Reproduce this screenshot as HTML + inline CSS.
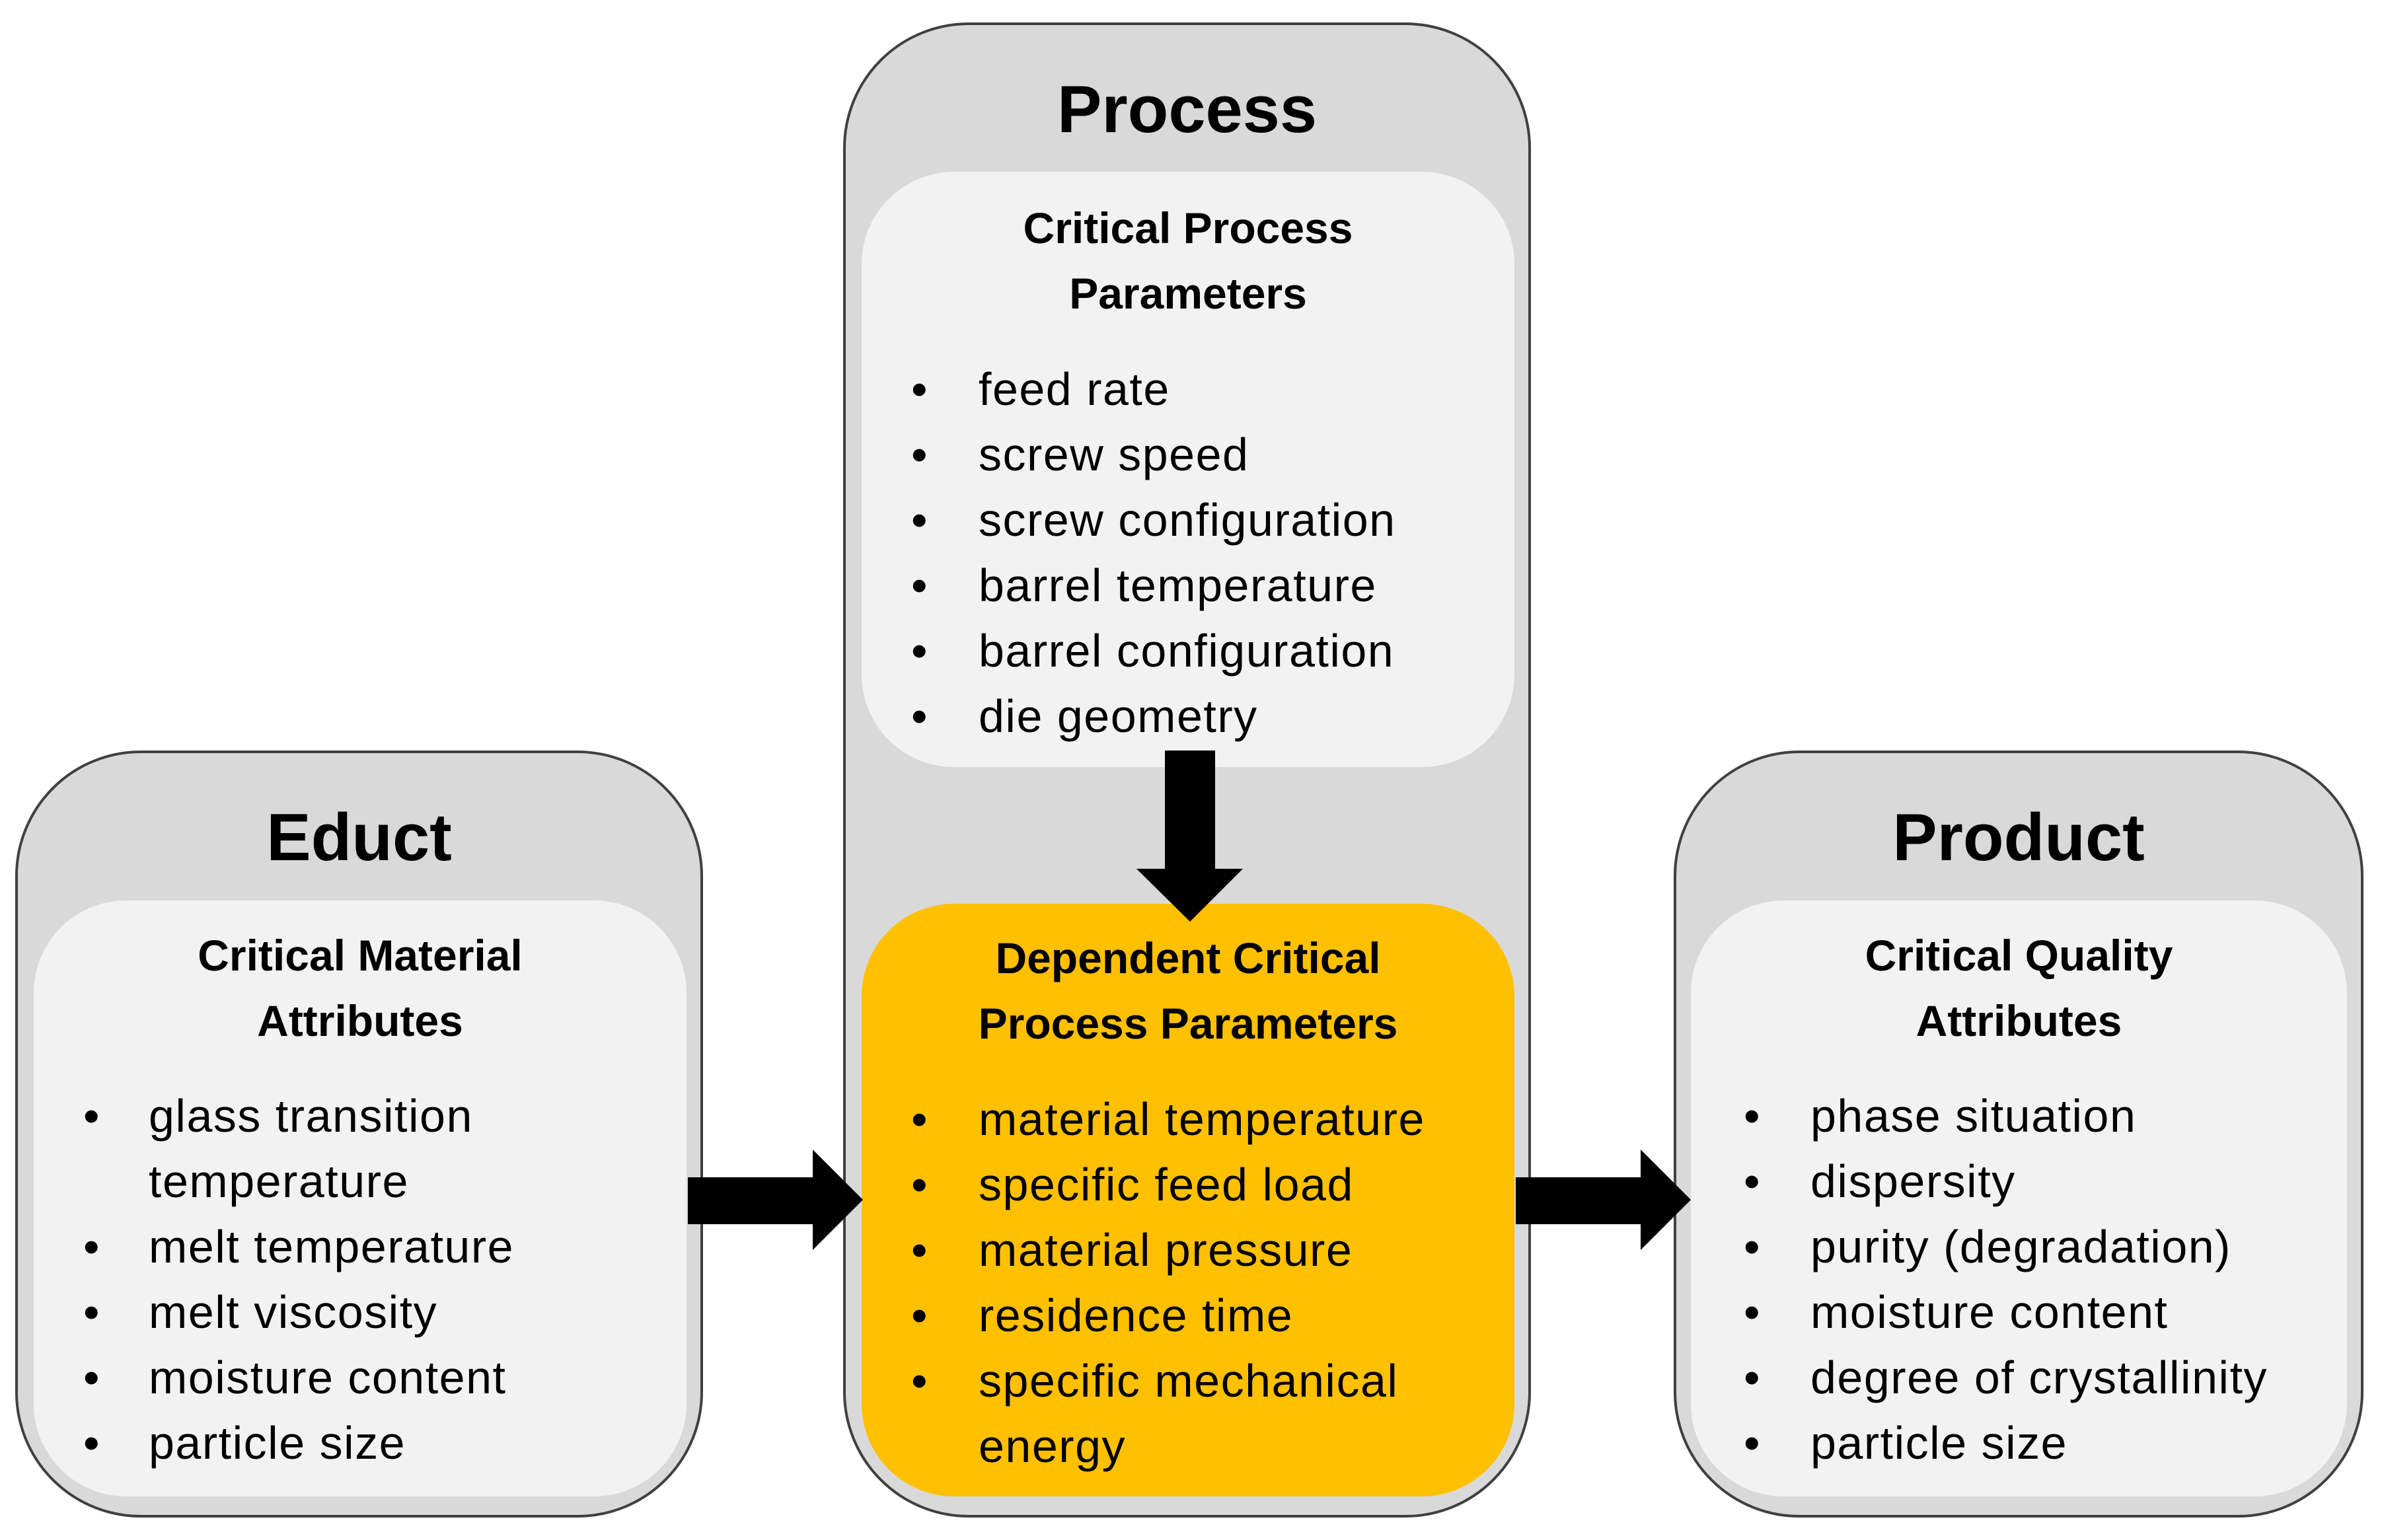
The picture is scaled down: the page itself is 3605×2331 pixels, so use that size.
<!DOCTYPE html>
<html><head><meta charset="utf-8"><style>
body{margin:0;width:3605px;height:2331px;background:#fff;position:relative;overflow:hidden;font-family:"Liberation Sans",sans-serif;color:#000}
.o{position:absolute;background:#d9d9d9;border:4px solid #404040;border-radius:190px;box-sizing:border-box}
.i{position:absolute;background:#f2f2f2;border-radius:140px;box-sizing:border-box}
.t{position:absolute;font-weight:bold;font-size:101px;text-align:center;line-height:1}
.h{position:absolute;font-weight:bold;font-size:66px;text-align:center;line-height:99px}
.l{position:absolute;font-size:70px;letter-spacing:1.5px;line-height:99px;margin:0;padding:0;list-style:none}
.l div{position:relative;padding-left:var(--p);white-space:nowrap}
.l div.b::before{content:"•";position:absolute;left:0}
.y{background:#ffc000}
</style></head><body>
<div class="o" style="left:23px;top:1136px;width:1041px;height:1161px"></div>
<div class="i" style="left:51px;top:1363px;width:988px;height:902px"></div>
<div class="o" style="left:1276px;top:34px;width:1041px;height:2263px"></div>
<div class="i" style="left:1304px;top:260px;width:988px;height:901px"></div>
<div class="i y" style="left:1304px;top:1368px;width:988px;height:897px"></div>
<div class="o" style="left:2533px;top:1136px;width:1044px;height:1161px"></div>
<div class="i" style="left:2559px;top:1363px;width:993px;height:902px"></div>

<div class="t" style="left:23px;width:1041px;top:1218px">Educt</div>
<div class="t" style="left:1276px;width:1041px;top:116px">Process</div>
<div class="t" style="left:2533px;width:1044px;top:1218px">Product</div>

<div class="h" style="left:51px;width:988px;top:1397px">Critical Material<br>Attributes</div>
<div class="h" style="left:1304px;width:988px;top:296px">Critical Process<br>Parameters</div>
<div class="h" style="left:1304px;width:988px;top:1401px">Dependent Critical<br>Process Parameters</div>
<div class="h" style="left:2559px;width:993px;top:1397px">Critical Quality<br>Attributes</div>

<div class="l" style="left:126px;top:1640px;--p:99px">
<div class="b">glass transition</div><div>temperature</div><div class="b">melt temperature</div><div class="b">melt viscosity</div><div class="b">moisture content</div><div class="b">particle size</div></div>
<div class="l" style="left:1379px;top:540px;--p:102px">
<div class="b">feed rate</div><div class="b">screw speed</div><div class="b">screw configuration</div><div class="b">barrel temperature</div><div class="b">barrel configuration</div><div class="b">die geometry</div></div>
<div class="l" style="left:1379px;top:1645px;--p:102px">
<div class="b">material temperature</div><div class="b">specific feed load</div><div class="b">material pressure</div><div class="b">residence time</div><div class="b">specific mechanical</div><div>energy</div></div>
<div class="l" style="left:2639px;top:1640px;--p:101px">
<div class="b">phase situation</div><div class="b">dispersity</div><div class="b">purity (degradation)</div><div class="b">moisture content</div><div class="b">degree of crystallinity</div><div class="b">particle size</div></div>

<svg style="position:absolute;left:0;top:0" width="3605" height="2331">
<polygon points="1763,1136 1839,1136 1839,1315 1881,1315 1801,1395 1720,1315 1763,1315" fill="#000"/>
<polygon points="1041,1782 1230,1782 1230,1740 1306,1816 1230,1892 1230,1853 1041,1853" fill="#000"/>
<polygon points="2294,1782 2483,1782 2483,1740 2559,1816 2483,1892 2483,1853 2294,1853" fill="#000"/>
</svg>
</body></html>
